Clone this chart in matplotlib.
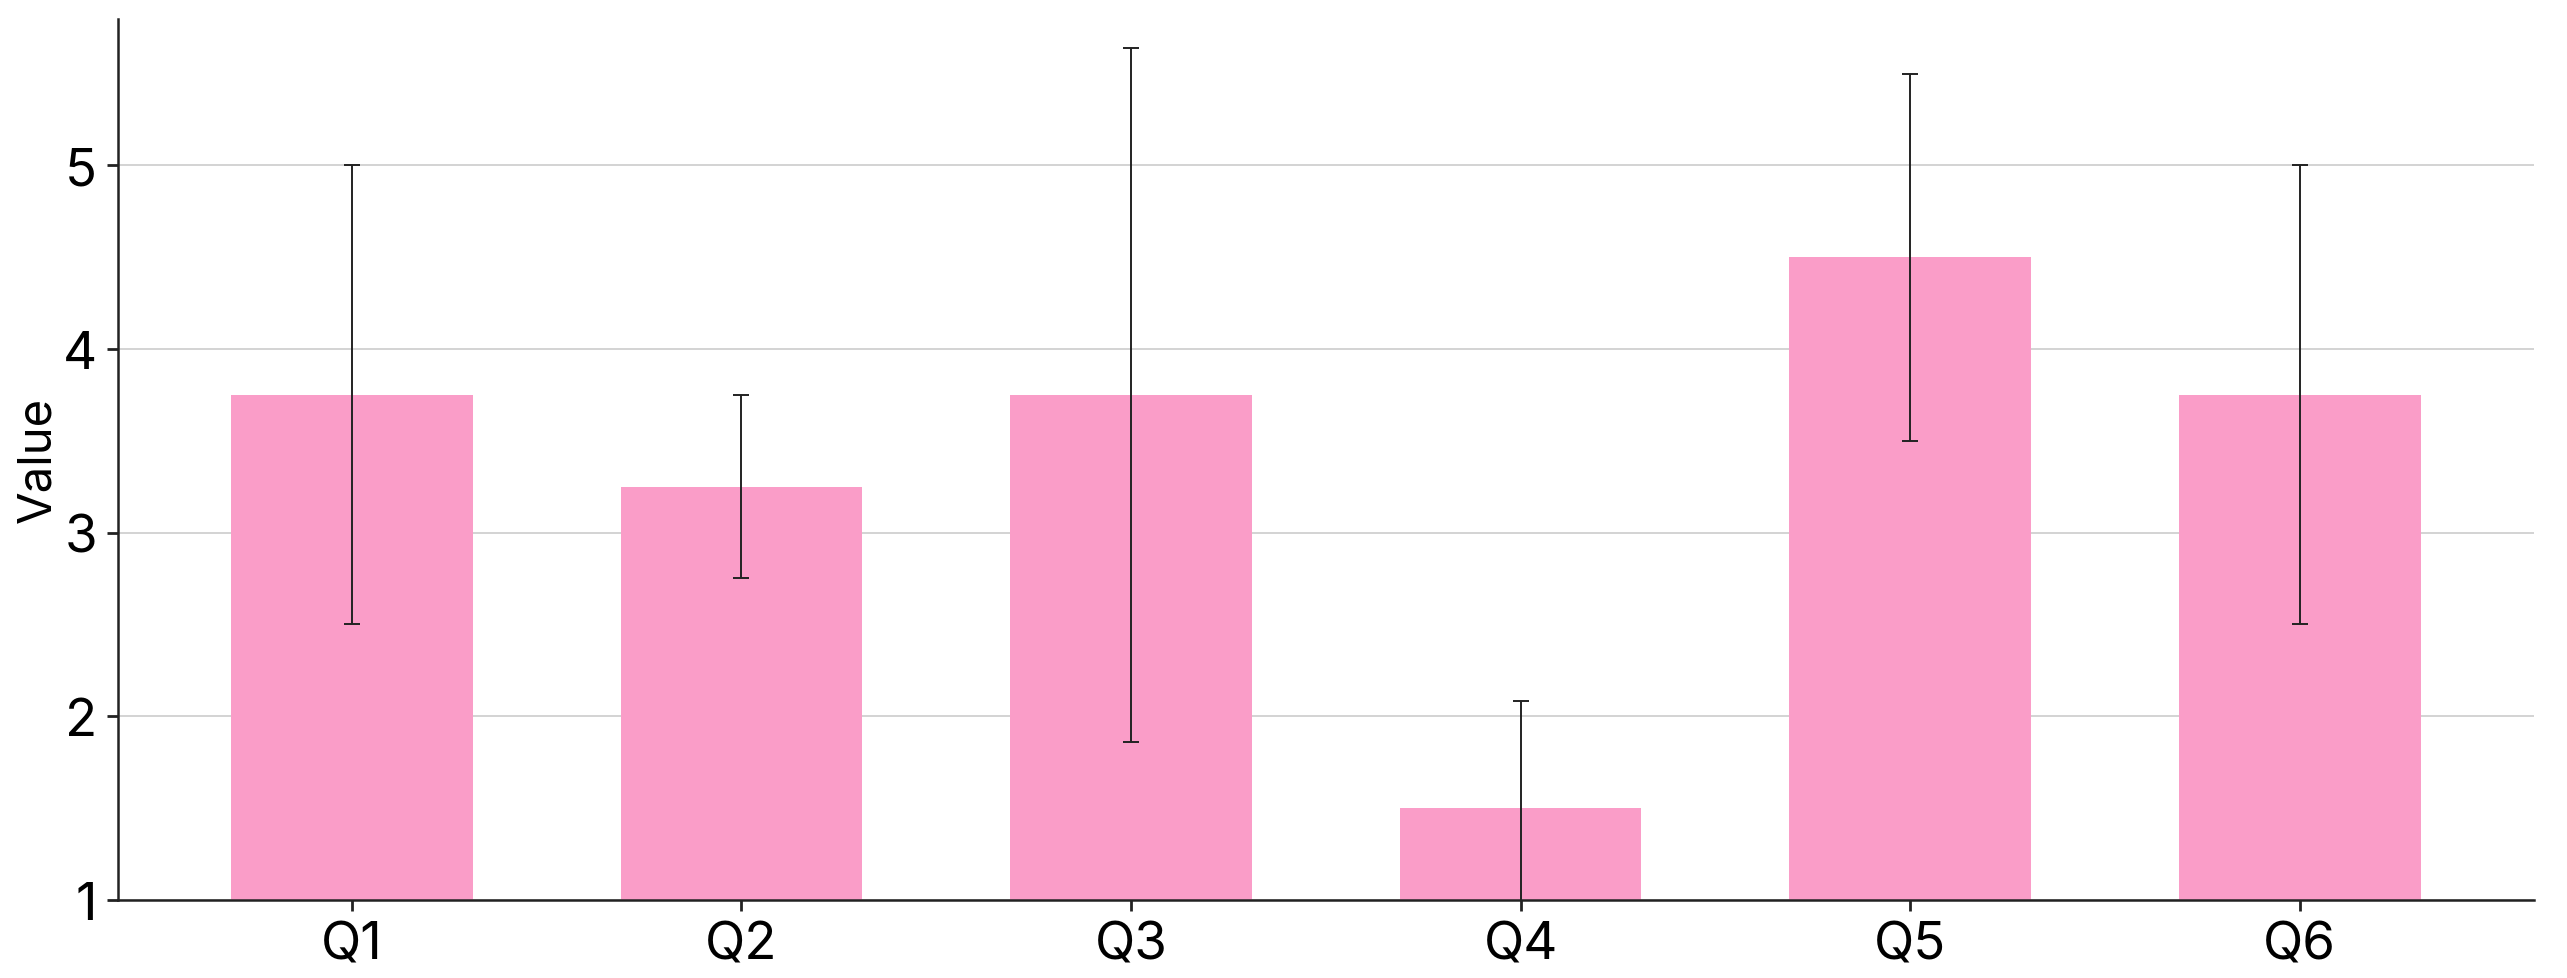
import numpy as np
import matplotlib
matplotlib.use("Agg")
import matplotlib.pyplot as plt

# bar chart of question means with error bars
questions = ["Q1", "Q2", "Q3", "Q4", "Q5", "Q6"]
means = [3.75, 3.25, 3.75, 1.5, 4.5, 3.75]
errors = [1.25, 0.5, 1.89, 0.58, 1.0, 1.25]

plt.rcParams['font.family'] = ['Inter', 'DejaVu Sans']

fig, ax = plt.subplots(figsize=(12.835, 4.895), dpi=200)
x = np.arange(len(questions))

ax.bar(x, means, width=0.62, color='#fa9dc8', zorder=2)
ax.errorbar(x, means, yerr=errors, fmt='none', ecolor='#222222',
            elinewidth=0.7, capsize=3, capthick=0.7, zorder=3)

ax.set_xticks(x)
ax.set_xticklabels(questions)
ax.set_xlim(-0.6, 5.6)
ax.set_ylim(1, 5.8)
ax.set_yticks([1, 2, 3, 4, 5])
ax.set_ylabel("Value", fontsize=17, labelpad=1)
ax.tick_params(axis='both', labelsize=19, width=1, length=4, color='#222222')

ax.yaxis.grid(True, color='#cccccc', linewidth=0.6, zorder=0)
ax.set_axisbelow(True)
for s in ['top', 'right']:
    ax.spines[s].set_visible(False)
for s in ['left', 'bottom']:
    ax.spines[s].set_color('#222222')
    ax.spines[s].set_linewidth(0.9)

plt.subplots_adjust(left=0.046, right=0.987, top=0.98, bottom=0.08)
plt.savefig("out.png", dpi=200)
